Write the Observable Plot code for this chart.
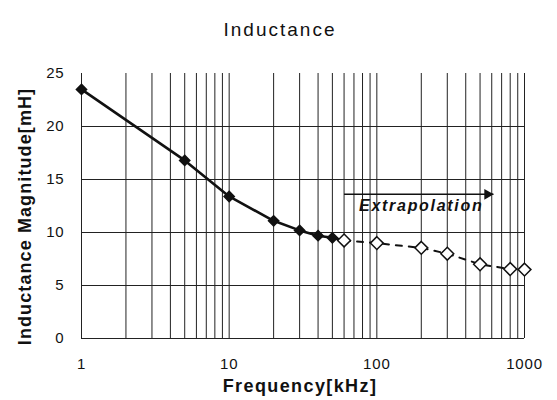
<!DOCTYPE html>
<html><head><meta charset="utf-8">
<script src="https://cdn.jsdelivr.net/npm/d3@7"></script>
<script src="https://cdn.jsdelivr.net/npm/@observablehq/plot@0.6"></script>
<style>body{margin:0;background:#fff}</style>
</head><body><div id="chart"></div>
<script>
const measuredFreq = [1, 5, 10, 20, 30, 40, 50];
const measuredL = [23.5, 16.8, 13.4, 11.1, 10.2, 9.7, 9.5];
const extraFreq = [60, 100, 200, 300, 500, 800, 1000];
const extraL = [9.25, 9.0, 8.55, 8.0, 7.0, 6.55, 6.5];
const xTicks = [1, 10, 100, 1000];
const yTicks = [0, 5, 10, 15, 20, 25];
const xGrid = [1,2,3,4,5,6,7,8,9,10,20,30,40,50,60,70,80,90,100,200,300,400,500,600,700,800,900,1000];
const yGrid = [0, 5, 10, 15, 20];
const arrowData = [{x1: 60, x2: 616, y: 13.6}];
const noteText = [{x: 200, y: 12.5, t: "Extrapolation"}];
const titleText = "Inductance";
const xLabel = "Frequency[kHz]";
const yLabel = "Inductance Magnitude[mH]";

const measured = measuredFreq.map((f, i) => ({f, L: measuredL[i]}));
const extra = extraFreq.map((f, i) => ({f, L: extraL[i]}));
const solidLine = measured.concat([extra[0]]);

const font = "Arial, 'Liberation Sans', sans-serif";
const chart = Plot.plot({
  width: 557, height: 400,
  marginLeft: 81, marginRight: 33, marginTop: 73, marginBottom: 62,
  style: {fontFamily: font, fontSize: "15px", color: "#111", background: "#fff"},
  x: {type: "log", domain: [1, 1000]},
  y: {domain: [0, 25]},
  marks: [
    Plot.ruleX(xGrid, {x: d => d, y1: 0, y2: 25, stroke: "#222", strokeWidth: 1}),
    Plot.ruleY(yGrid, {y: d => d, stroke: "#222", strokeWidth: 1}),
    Plot.axisX({ticks: xTicks, tickFormat: d => String(d), tickSize: 0, tickPadding: 20, label: null, fontSize: 15}),
    Plot.axisY({ticks: yTicks, tickSize: 0, tickPadding: 17, label: null, fontSize: 15}),
    Plot.line(extra, {x: "f", y: "L", stroke: "#111", strokeWidth: 2, strokeDasharray: "6,7"}),
    Plot.line(solidLine, {x: "f", y: "L", stroke: "#111", strokeWidth: 2.6}),
    Plot.dot(measured, {x: "f", y: "L", symbol: "diamond2", r: 4.6, fill: "#111", stroke: "#111"}),
    Plot.dot(extra, {x: "f", y: "L", symbol: "diamond2", r: 5.8, fill: "#fff", stroke: "#111", strokeWidth: 1.5}),
    Plot.link(arrowData, {x1: "x1", x2: "x2", y1: "y", y2: "y", stroke: "#111", strokeWidth: 1.5}),
    Plot.dot(arrowData, {x: "x2", y: "y", symbol: "triangle", r: 4, rotate: 90, dx: -6, fill: "#111", stroke: "none"}),
    Plot.text(noteText, {x: "x", y: "y", text: "t", fontStyle: "italic", fontWeight: "bold", fontSize: 16, fill: "#111"}),
    Plot.text([titleText], {frameAnchor: "top", dx: -23, dy: -51, fontSize: 19, fill: "#111"}),
    Plot.text([xLabel], {frameAnchor: "bottom", dx: -3, dy: 53, fontSize: 18, fontWeight: "bold", fill: "#111"}),
    Plot.text([yLabel], {frameAnchor: "left", textAnchor: "middle", dx: -56, dy: 10.5, rotate: -90, fontSize: 18, fontWeight: "bold", fill: "#111"})
  ]
});
const spacing = {"Extrapolation": "1.7px", [titleText]: "2px", [xLabel]: "1.4px", [yLabel]: "1.1px"};
d3.select(chart).selectAll("text").each(function() {
  const t = this.textContent;
  if (spacing[t]) this.setAttribute("letter-spacing", spacing[t]);
  else if (/^\d+$/.test(t)) this.setAttribute("letter-spacing", "0.8px");
});
document.getElementById("chart").appendChild(chart);
</script>
</body></html>
